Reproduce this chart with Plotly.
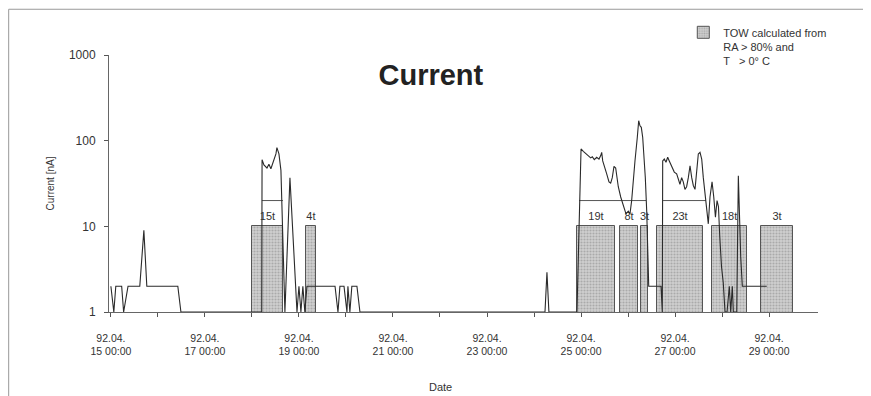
import pandas as pd
import plotly.graph_objects as go

# ---------------- data ----------------
current_time = [
    "1992-04-15 00:00", "1992-04-15 01:30", "1992-04-15 02:30", "1992-04-15 05:30",
    "1992-04-15 06:30", "1992-04-15 08:45", "1992-04-15 14:45", "1992-04-15 16:50",
    "1992-04-15 18:20", "1992-04-16 10:10", "1992-04-16 11:45", "1992-04-18 05:00",
    "1992-04-18 05:10", "1992-04-18 06:07", "1992-04-18 07:40", "1992-04-18 08:40",
    "1992-04-18 09:41", "1992-04-18 10:43", "1992-04-18 12:15", "1992-04-18 12:45",
    "1992-04-18 13:47", "1992-04-18 14:48", "1992-04-18 16:50", "1992-04-18 19:24",
    "1992-04-18 23:00", "1992-04-19 00:00", "1992-04-19 01:00", "1992-04-19 02:00",
    "1992-04-19 03:00", "1992-04-19 04:05", "1992-04-19 18:25", "1992-04-19 19:55",
    "1992-04-19 20:55", "1992-04-19 23:00", "1992-04-20 00:30", "1992-04-20 01:00",
    "1992-04-20 02:00", "1992-04-20 03:00", "1992-04-20 05:36", "1992-04-20 07:08",
    "1992-04-24 05:36", "1992-04-24 06:36", "1992-04-24 07:36", "1992-04-24 21:55",
    "1992-04-25 00:00", "1992-04-25 01:10", "1992-04-25 02:32", "1992-04-25 03:42",
    "1992-04-25 04:55", "1992-04-25 05:45", "1992-04-25 06:46", "1992-04-25 08:00",
    "1992-04-25 09:10", "1992-04-25 10:03", "1992-04-25 10:33", "1992-04-25 11:04",
    "1992-04-25 11:53", "1992-04-25 13:06", "1992-04-25 14:16", "1992-04-25 15:08",
    "1992-04-25 15:57", "1992-04-25 16:49", "1992-04-25 17:41", "1992-04-25 18:12",
    "1992-04-25 19:01", "1992-04-25 20:15", "1992-04-25 21:34", "1992-04-25 22:57",
    "1992-04-26 00:07", "1992-04-26 00:59", "1992-04-26 01:51", "1992-04-26 02:40",
    "1992-04-26 03:32", "1992-04-26 04:43", "1992-04-26 05:26", "1992-04-26 06:06",
    "1992-04-26 06:46", "1992-04-26 07:29", "1992-04-26 08:09", "1992-04-26 08:49",
    "1992-04-26 09:32", "1992-04-26 10:02", "1992-04-26 10:33", "1992-04-26 16:50",
    "1992-04-26 17:11", "1992-04-26 17:29", "1992-04-26 17:41", "1992-04-26 18:30",
    "1992-04-26 19:22", "1992-04-26 20:14", "1992-04-26 21:03", "1992-04-26 22:17",
    "1992-04-26 23:36", "1992-04-27 00:49", "1992-04-27 01:38", "1992-04-27 02:30",
    "1992-04-27 03:22", "1992-04-27 04:11", "1992-04-27 05:03", "1992-04-27 05:54",
    "1992-04-27 06:46", "1992-04-27 07:38", "1992-04-27 08:30", "1992-04-27 09:19",
    "1992-04-27 10:11", "1992-04-27 11:03", "1992-04-27 11:52", "1992-04-27 12:44",
    "1992-04-27 13:36", "1992-04-27 14:25", "1992-04-27 15:17", "1992-04-27 16:09",
    "1992-04-27 16:58", "1992-04-27 17:50", "1992-04-27 18:53", "1992-04-27 19:45",
    "1992-04-27 20:37", "1992-04-27 21:26", "1992-04-27 22:09", "1992-04-27 22:50",
    "1992-04-27 23:42", "1992-04-28 00:36", "1992-04-28 01:30", "1992-04-28 02:32",
    "1992-04-28 03:42", "1992-04-28 04:24", "1992-04-28 05:14", "1992-04-28 05:45",
    "1992-04-28 07:29", "1992-04-28 08:18", "1992-04-28 08:49", "1992-04-28 09:31",
    "1992-04-28 10:20", "1992-04-28 22:48",
]
current_value = [
    2, 1, 2, 2,
    1, 2, 2, 9,
    2, 2, 1, 1,
    60, 52, 48, 53,
    47, 55, 70, 83,
    70, 45, 1, 37,
    1, 2, 1, 2,
    1, 2, 2, 1,
    2, 2, 1, 2,
    1, 2, 2, 1,
    1, 2.9, 1, 1,
    80, 75, 70, 67,
    63, 65, 60, 64,
    61, 67, 73, 58,
    49, 41, 33, 32,
    37, 50, 48, 39,
    29, 22, 17, 14,
    15, 14, 20, 37,
    58, 109, 171, 149,
    143, 109, 64, 37,
    15, 5.3, 2, 2,
    1, 1, 58, 61,
    56, 64, 58, 51,
    43, 41, 36, 31,
    37, 33, 27, 29,
    37, 51, 37, 30,
    27, 45, 70, 73,
    61, 37, 24, 15,
    10.7, 22, 33, 22,
    12.8, 20, 17, 7.5,
    3.4, 2.2, 1, 1,
    2, 1, 2, 1,
    1, 39, 12.8, 4.4,
    2, 2,
]

tow_start = ["1992-04-18 00:00", "1992-04-19 03:35", "1992-04-24 21:55", "1992-04-25 19:54",
             "1992-04-26 06:37", "1992-04-26 14:47", "1992-04-27 18:54", "1992-04-28 19:52"]
tow_end = ["1992-04-18 15:50", "1992-04-19 08:40", "1992-04-25 17:20", "1992-04-26 05:05",
           "1992-04-26 10:11", "1992-04-27 14:17", "1992-04-28 12:44", "1992-04-29 12:13"]
tow_labels = ["15t", "4t", "19t", "8t", "3t", "23t", "18t", "3t"]
tow_level = 10
tow_label_level = 12.6

bracket_start = ["1992-04-18 05:06", "1992-04-24 23:00", "1992-04-26 17:52"]
bracket_end = ["1992-04-18 15:50", "1992-04-26 09:10", "1992-04-27 15:48"]
bracket_level = 20

tick_days = list(range(15, 30))
tick_labels = [f"92.04.<br>{d} 00:00" if d % 2 == 1 else "" for d in tick_days]
y_ticks = [1, 10, 100, 1000]

# ---------------- build ----------------
ts = pd.to_datetime(tow_start)
te = pd.to_datetime(tow_end)
tow_center = ts + (te - ts) / 2
tow_width_ms = [(e - s).total_seconds() * 1000 for s, e in zip(ts, te)]

bx, by = [], []
for s, e in zip(bracket_start, bracket_end):
    bx += [s, e, None]
    by += [bracket_level, bracket_level, None]

FONT = "Liberation Sans, Arial, sans-serif"

fig = go.Figure()
fig.add_trace(go.Bar(
    x=tow_center, y=[tow_level] * len(tow_start), width=tow_width_ms,
    name="TOW calculated from<br>RA > 80% and<br>T   > 0° C",
    marker=dict(color="#d0d0d0",
                line=dict(color="#555555", width=1),
                pattern=dict(shape=".", fgcolor="#848484", bgcolor="#d0d0d0",
                             size=3, solidity=0.4)),
    showlegend=True,
))
fig.add_trace(go.Scatter(x=bx, y=by, mode="lines", line=dict(color="#555555", width=1),
                         showlegend=False, hoverinfo="skip"))
fig.add_trace(go.Scatter(x=current_time, y=current_value, mode="lines",
                         line=dict(color="#2a2a2a", width=1.1), showlegend=False))
fig.add_trace(go.Scatter(x=tow_center, y=[tow_label_level] * len(tow_labels),
                         mode="text", text=tow_labels,
                         textfont=dict(family=FONT, size=11, color="#333333"),
                         showlegend=False, hoverinfo="skip"))

frame = dict(color="#999999", width=1)
fig.update_layout(
    width=863, height=388,
    margin=dict(l=101, r=53, t=46, b=84),
    paper_bgcolor="white", plot_bgcolor="white",
    font=dict(family=FONT, size=11, color="#333333"),
    title=dict(text="<b>Current</b>", x=0.490, xanchor="center", y=0.827, yanchor="middle",
               font=dict(family=FONT, size=29, color="#222222")),
    bargap=0,
    legend=dict(x=0.81, y=1.137, xanchor="left", yanchor="top", valign="top",
                bgcolor="rgba(0,0,0,0)", font=dict(family=FONT, size=11, color="#333333"),
                tracegroupgap=0),
    shapes=[
        dict(type="line", xref="paper", yref="paper", x0=-0.1415, x1=1.2, y0=1.178, y1=1.178, line=frame),
        dict(type="line", xref="paper", yref="paper", x0=-0.1415, x1=-0.1415, y0=-0.40, y1=1.178, line=frame),
    ],
    annotations=[dict(text="Date", xref="paper", yref="paper", x=0.467, y=-0.291,
                      xanchor="center", yanchor="middle", showarrow=False,
                      font=dict(family=FONT, size=11, color="#333333"))],
)
fig.update_xaxes(
    type="date", range=["1992-04-14 23:02", "1992-04-30 00:58"],
    tickvals=[f"1992-04-{d:02d}" for d in tick_days], ticktext=tick_labels,
    ticks="outside", ticklen=4, tickcolor="#555555",
    showline=True, linecolor="#666666", linewidth=1,
    showgrid=False, zeroline=False,
    ticklabelstandoff=12,
    tickfont=dict(family=FONT, size=10.5, color="#333333"),
)
fig.update_yaxes(
    type="log", range=[0, 3],
    tickvals=y_ticks, ticktext=[str(v) for v in y_ticks],
    ticks="outside", ticklen=4, tickcolor="#555555",
    showline=True, linecolor="#666666", linewidth=1,
    showgrid=False, zeroline=False,
    ticklabelstandoff=6,
    tickfont=dict(family=FONT, size=12, color="#333333"),
    title=dict(text="Current [nA]", standoff=12, font=dict(family=FONT, size=10, color="#333333")),
)

fig.write_html("out.html")
